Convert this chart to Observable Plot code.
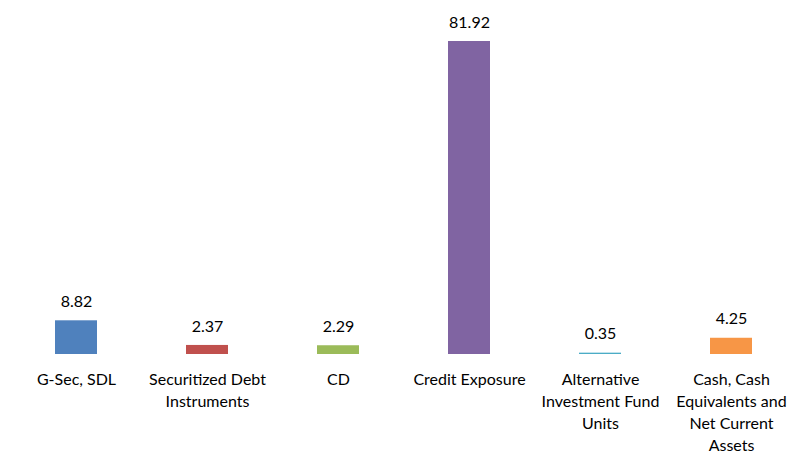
<!DOCTYPE html>
<html>
<head>
<meta charset="utf-8">
<script src="https://cdn.jsdelivr.net/npm/d3@7"></script>
<script src="https://cdn.jsdelivr.net/npm/@observablehq/plot@0.6"></script>
<style>
  html, body { margin: 0; padding: 0; background: #fff; }
  #chart { width: 791px; height: 454px; }
</style>
</head>
<body>
<div id="chart"></div>
<script>
const categories = [
  "G-Sec, SDL",
  "Securitized Debt\nInstruments",
  "CD",
  "Credit Exposure",
  "Alternative\nInvestment Fund\nUnits",
  "Cash, Cash\nEquivalents and\nNet Current\nAssets"
];
const values = [8.82, 2.37, 2.29, 81.92, 0.35, 4.25];
const valueLabels = ["8.82", "2.37", "2.29", "81.92", "0.35", "4.25"];
const colors = ["#4F81BD", "#C0504D", "#9BBB59", "#8064A2", "#4BACC6", "#F79646"];

const data = categories.map((c, i) => ({cat: c, value: values[i], label: valueLabels[i], color: colors[i]}));
const font = "Lato, 'Open Sans', sans-serif";

const chart = Plot.plot({
  width: 791,
  height: 454,
  marginTop: 0, marginBottom: 0, marginLeft: 0, marginRight: 0,
  style: {fontFamily: font, fontSize: "16px", color: "#000", background: "#fff"},
  x: {domain: categories, range: [10, 796], paddingInner: 0.68, paddingOuter: 0.34, axis: null},
  y: {domain: [0, 81.92], range: [354, 41], axis: null},
  marks: [
    Plot.barY(data, {x: "cat", y: "value", fill: "color"}),
    Plot.ruleY([0], {x1: 10, x2: 791, stroke: "#BFBFBF", strokeWidth: 1.3}),
    Plot.text(data, {x: "cat", y: "value", text: "label", dy: -19, lineAnchor: "middle", fill: "#000", fontSize: 16}),
    Plot.text(data, {x: "cat", y: 0, text: "cat", dy: 15, lineAnchor: "top", lineHeight: 1.38, fill: "#000", fontSize: 16})
  ]
});
document.getElementById("chart").appendChild(chart);
</script>
</body>
</html>
